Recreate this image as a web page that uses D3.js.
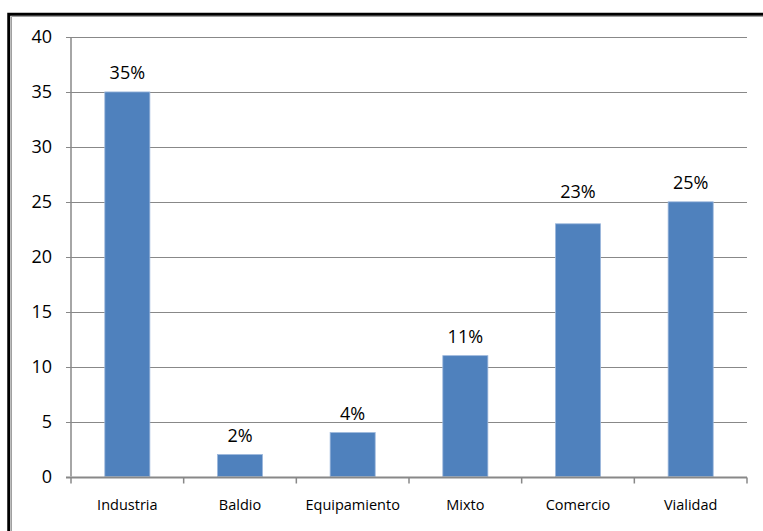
<!DOCTYPE html>
<html>
<head>
<meta charset="utf-8">
<script src="https://cdn.jsdelivr.net/npm/d3@7"></script>
<style>
  html, body { margin: 0; padding: 0; background: #fff; }
  svg { display: block; }
  text { font-family: "Open Sans", Lato, sans-serif; fill: #000; }
</style>
</head>
<body>
<svg id="chart" width="763" height="531"></svg>
<script>
// Uso de suelo por categoría (%)
const categories = ["Industria", "Baldio", "Equipamiento", "Mixto", "Comercio", "Vialidad"];
const values = [35, 2, 4, 11, 23, 25];
const valueLabels = ["35%", "2%", "4%", "11%", "23%", "25%"];
const yTicks = [0, 5, 10, 15, 20, 25, 30, 35, 40];

const svg = d3.select("#chart");
const W = 763, H = 531;
const plot = { left: 71, right: 747, top: 37, bottom: 476.5 };

// Frame: heavy black rule on the left and top, with a thin grey rule inside
svg.append("path")
  .attr("d", `M8.75,${H} V14.25 H${W}`)
  .attr("fill", "none").attr("stroke", "#000").attr("stroke-width", 3);
svg.append("path")
  .attr("d", `M11.5,${H} V16.5 H${W}`)
  .attr("fill", "none").attr("stroke", "#a0a0a0").attr("stroke-width", 1);

const x = d3.scaleBand()
  .domain(categories)
  .range([plot.left, plot.right])
  .paddingInner(0.6)
  .paddingOuter(0.3);

const y = d3.scaleLinear()
  .domain([0, 40])
  .range([plot.bottom, plot.top]);

// Horizontal gridlines with short ticks left of the axis
const grid = svg.append("g");
grid.selectAll("line")
  .data(yTicks.filter(t => t > 0))
  .join("line")
  .attr("x1", plot.left - 5).attr("x2", plot.right)
  .attr("y1", d => Math.round(y(d)) + 0.5).attr("y2", d => Math.round(y(d)) + 0.5)
  .attr("stroke", "#888").attr("stroke-width", 1);

// Y tick labels
svg.append("g").selectAll("text")
  .data(yTicks)
  .join("text")
  .attr("x", plot.left - 19)
  .attr("y", d => y(d) + 6)
  .attr("text-anchor", "end")
  .attr("font-size", 18)
  .text(d => d);

// Bars
svg.append("g").selectAll("rect")
  .data(values)
  .join("rect")
  .attr("x", (d, i) => x(categories[i]))
  .attr("width", x.bandwidth())
  .attr("y", d => y(d))
  .attr("height", d => y(0) - y(d))
  .attr("fill", "#4f81bd")
  .attr("stroke", "#9db8dc")
  .attr("stroke-width", 0.8);

// Value labels above bars (Comercio's label sits a little higher, clear of the 25 gridline)
const labelNudge = { Comercio: -13 };
svg.append("g").selectAll("text")
  .data(values)
  .join("text")
  .attr("x", (d, i) => x(categories[i]) + x.bandwidth() / 2)
  .attr("y", (d, i) => y(d) - 13 + (labelNudge[categories[i]] || 0))
  .attr("text-anchor", "middle")
  .attr("font-size", 18)
  .text((d, i) => valueLabels[i]);

// Y axis line
svg.append("line")
  .attr("x1", plot.left).attr("x2", plot.left)
  .attr("y1", plot.top).attr("y2", plot.bottom)
  .attr("stroke", "#888").attr("stroke-width", 1.5);

// X axis line with category boundary ticks
const xAxisY = Math.round(plot.bottom) + 0.5;
svg.append("line")
  .attr("x1", plot.left - 5).attr("x2", plot.right)
  .attr("y1", xAxisY).attr("y2", xAxisY)
  .attr("stroke", "#888").attr("stroke-width", 2);

const step = x.step();
const bounds = d3.range(categories.length + 1).map(i => plot.left + i * step);
svg.append("g").selectAll("line")
  .data(bounds)
  .join("line")
  .attr("x1", d => d).attr("x2", d => d)
  .attr("y1", xAxisY).attr("y2", xAxisY + 6)
  .attr("stroke", "#888").attr("stroke-width", 1.5);

// Category labels
svg.append("g").selectAll("text")
  .data(categories)
  .join("text")
  .attr("x", d => x(d) + x.bandwidth() / 2)
  .attr("y", 510)
  .attr("text-anchor", "middle")
  .attr("font-size", 14.5)
  .text(d => d);
</script>
</body>
</html>
